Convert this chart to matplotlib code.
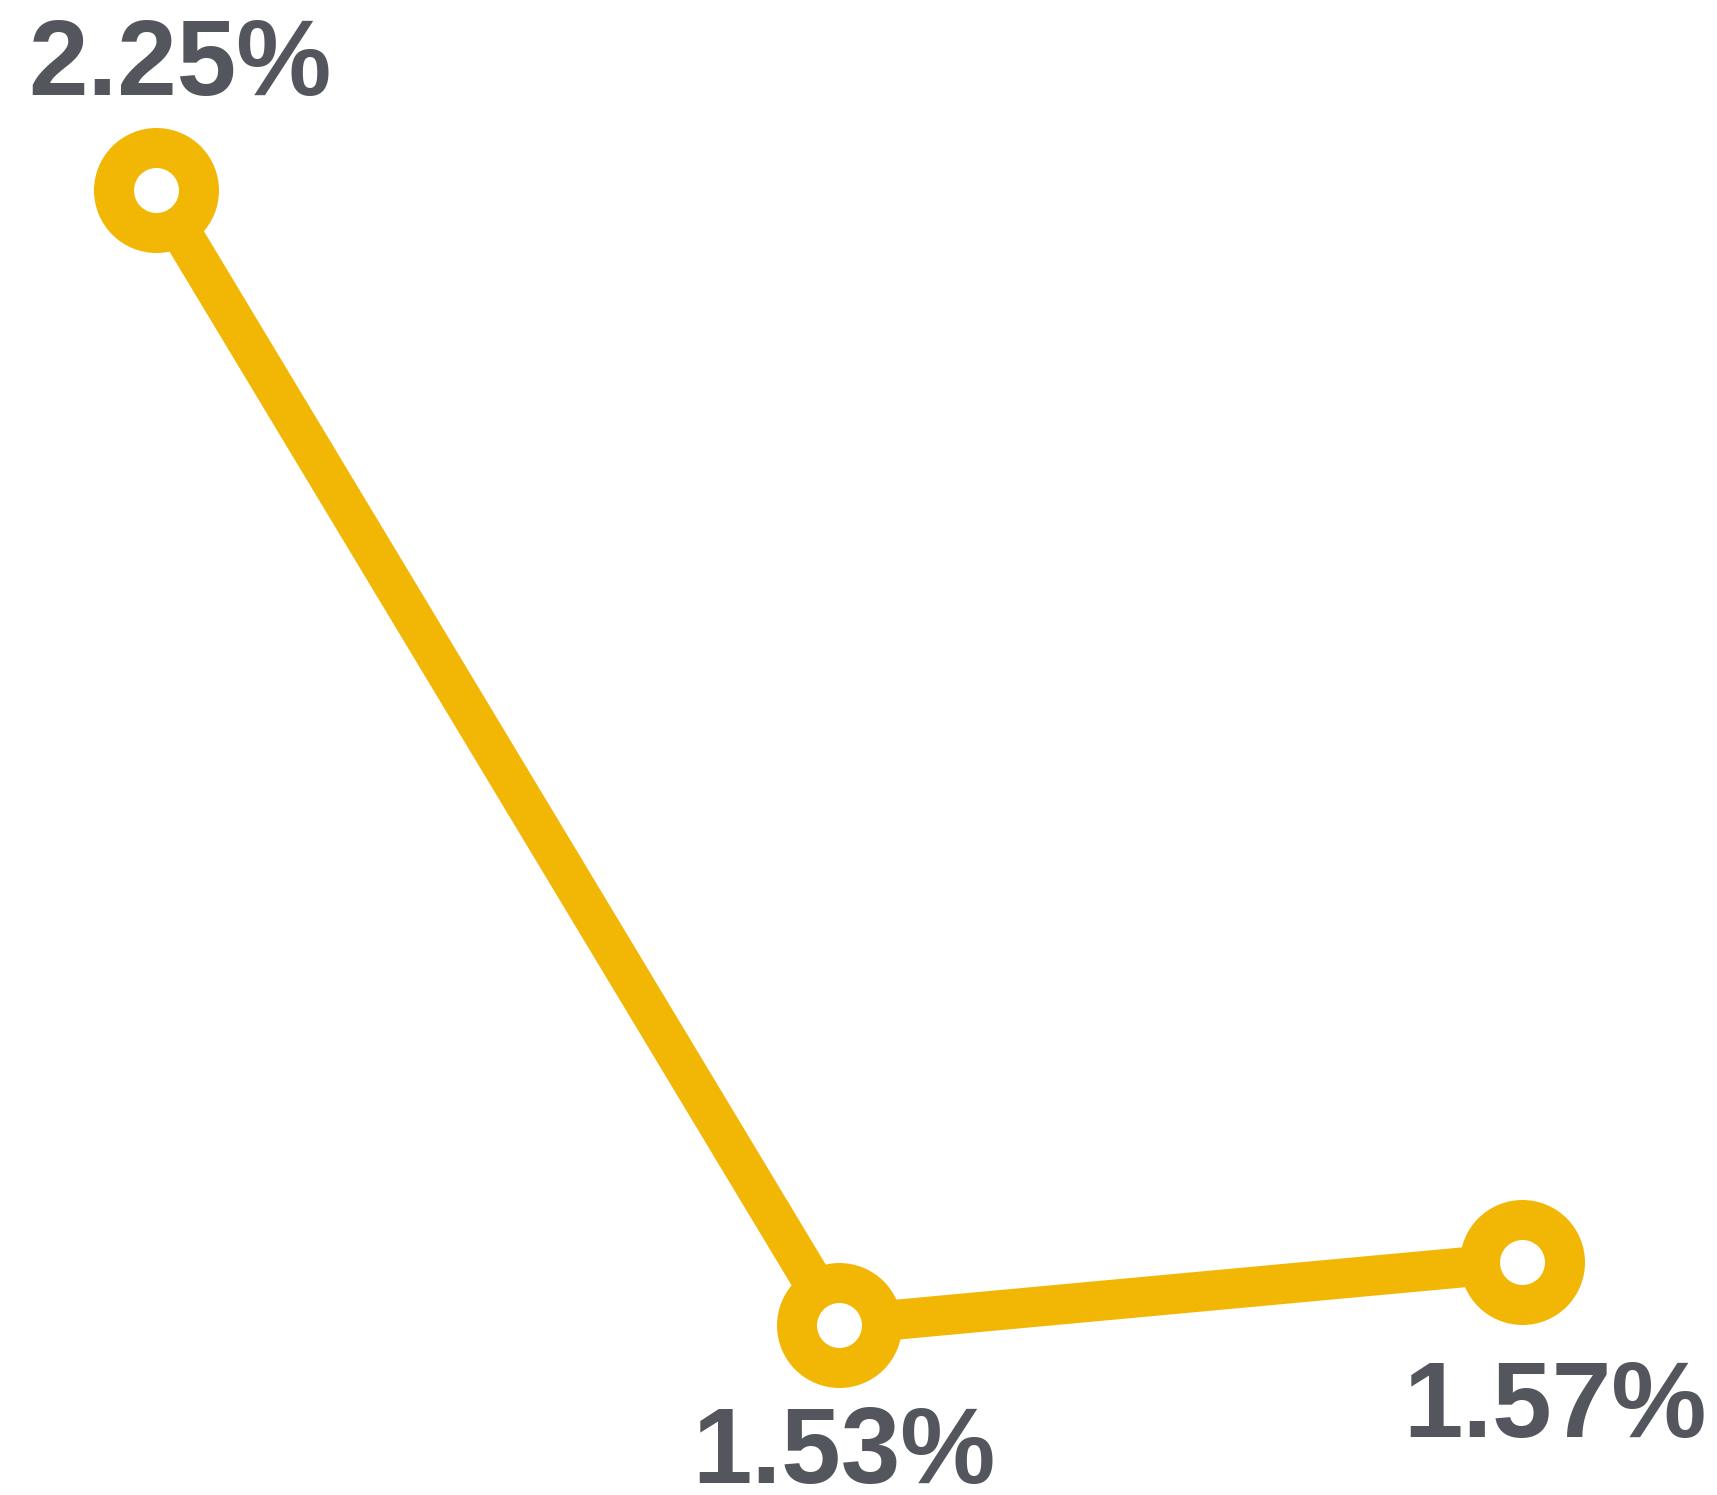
import matplotlib
matplotlib.use("Agg")
import matplotlib.pyplot as plt

categories = ["A", "B", "C"]
values = [2.25, 1.53, 1.57]
labels = ["2.25%", "1.53%", "1.57%"]

YELLOW = "#F2B705"
TEXT = "#53575D"

fig = plt.figure(figsize=(17.17, 14.95), dpi=100)
ax = fig.add_axes([0, 0, 1, 1])
ax.set_axis_off()
x = list(range(len(categories)))
ax.plot(x, values, color=YELLOW, lw=28.8, solid_capstyle="butt", zorder=2)
ax.plot(x, values, "o", ms=90, color=YELLOW, mec="none", zorder=3)
ax.plot(x, values, "o", ms=32.4, color="white", mec="none", zorder=4)

ax.set_xlim(-0.2276, 2.2854)
ax.set_ylim(1.4222, 2.3702)

offsets = [(24.5, 94.5), (5, -158), (33, -175.5)]
for xi, v, lab, (dx, dy) in zip(x, values, labels, offsets):
    ax.annotate(lab, (xi, v), xytext=(dx, dy), textcoords="offset pixels",
                ha="center", va="baseline", fontsize=77, color=TEXT,
                family=["Liberation Sans", "DejaVu Sans"], fontweight="bold")

fig.savefig("out.png", dpi=100, facecolor="white")
